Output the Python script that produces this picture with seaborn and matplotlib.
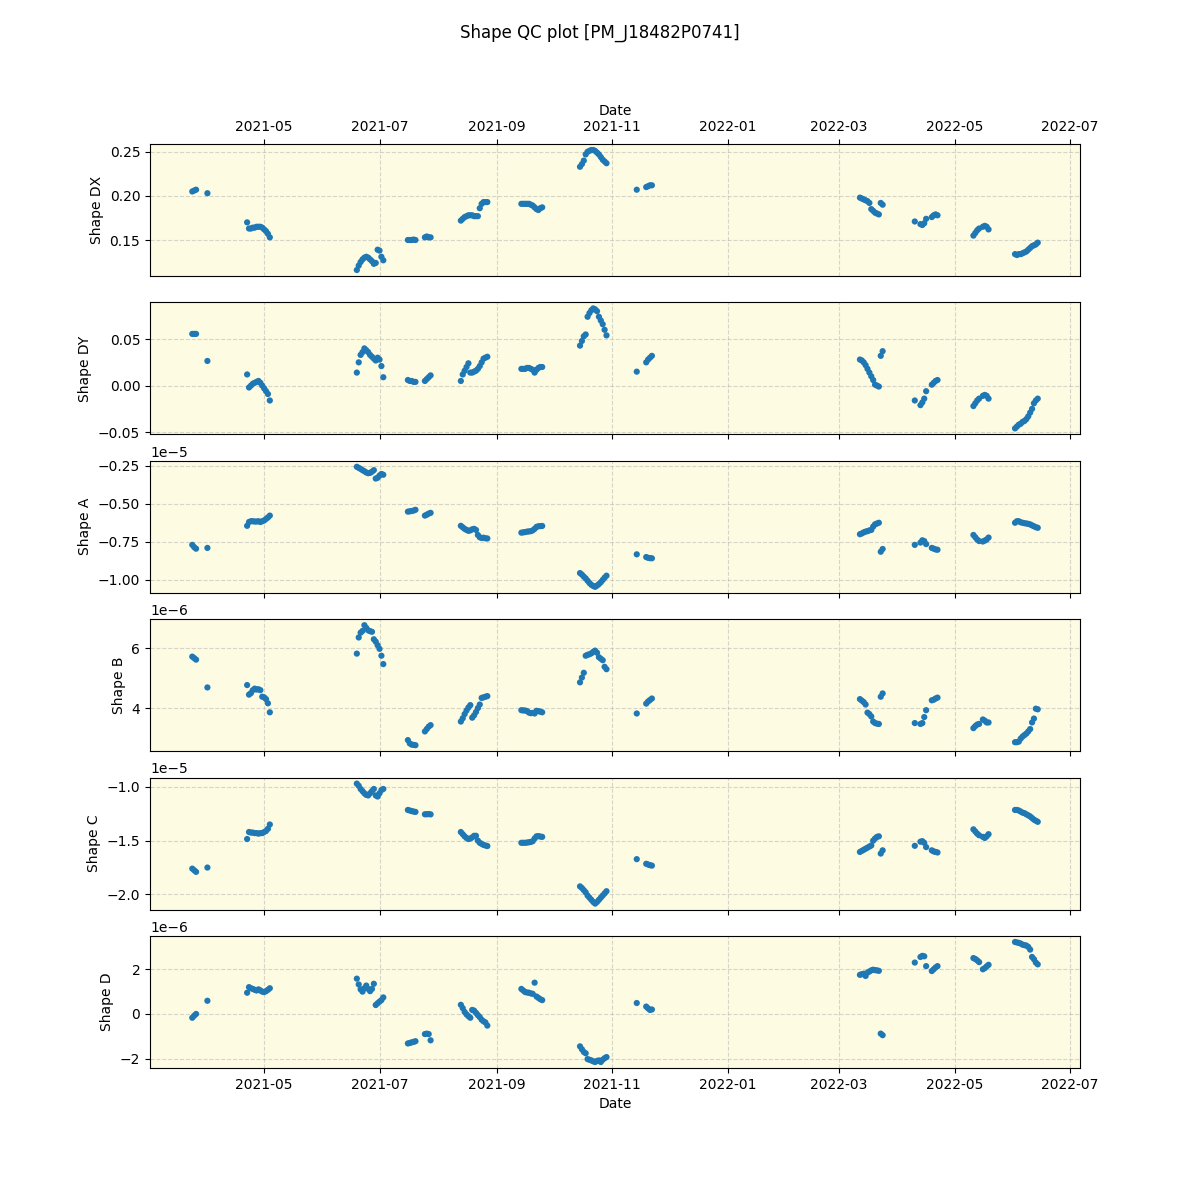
import pandas as pd
import seaborn as sns
import matplotlib.pyplot as plt

# observation dates (one row per measurement)
dates = [
    "2021-03-24", "2021-03-25", "2021-03-26", "2021-04-01",
    "2021-04-22", "2021-04-23", "2021-04-24", "2021-04-25", "2021-04-26", "2021-04-27", "2021-04-28",
    "2021-04-29", "2021-04-30", "2021-05-01", "2021-05-02", "2021-05-03", "2021-05-04",
    "2021-06-19", "2021-06-20", "2021-06-21", "2021-06-22", "2021-06-23", "2021-06-24", "2021-06-25",
    "2021-06-26", "2021-06-27", "2021-06-28", "2021-06-29", "2021-06-30", "2021-07-01", "2021-07-02",
    "2021-07-03",
    "2021-07-16", "2021-07-17", "2021-07-18", "2021-07-19", "2021-07-20",
    "2021-07-25", "2021-07-26", "2021-07-27", "2021-07-28",
    "2021-08-13", "2021-08-14", "2021-08-15", "2021-08-16", "2021-08-17", "2021-08-18", "2021-08-19",
    "2021-08-20", "2021-08-21", "2021-08-22", "2021-08-23", "2021-08-24", "2021-08-25", "2021-08-26",
    "2021-08-27",
    "2021-09-14", "2021-09-15", "2021-09-16", "2021-09-17", "2021-09-18", "2021-09-19", "2021-09-20",
    "2021-09-21", "2021-09-22", "2021-09-23", "2021-09-24", "2021-09-25",
    "2021-10-15", "2021-10-16", "2021-10-17", "2021-10-18", "2021-10-19", "2021-10-20", "2021-10-21",
    "2021-10-22", "2021-10-23", "2021-10-24", "2021-10-25", "2021-10-26", "2021-10-27", "2021-10-28",
    "2021-10-29",
    "2021-11-14", "2021-11-19", "2021-11-20", "2021-11-21", "2021-11-22",
    "2022-03-12", "2022-03-13", "2022-03-14", "2022-03-15", "2022-03-16", "2022-03-17", "2022-03-18",
    "2022-03-19", "2022-03-20", "2022-03-21", "2022-03-22", "2022-03-23", "2022-03-24",
    "2022-04-10", "2022-04-13", "2022-04-14", "2022-04-15", "2022-04-16", "2022-04-19", "2022-04-20",
    "2022-04-21", "2022-04-22",
    "2022-05-11", "2022-05-12", "2022-05-13", "2022-05-14", "2022-05-16", "2022-05-17", "2022-05-18",
    "2022-05-19",
    "2022-06-02", "2022-06-03", "2022-06-04", "2022-06-05", "2022-06-06", "2022-06-07", "2022-06-08",
    "2022-06-09", "2022-06-10", "2022-06-11", "2022-06-12", "2022-06-13", "2022-06-14",
]

shape_dx = [
    0.205, 0.206, 0.207, 0.203,
    0.170, 0.163, 0.163, 0.164, 0.164, 0.165, 0.165, 0.165, 0.164, 0.162, 0.160, 0.157, 0.153,
    0.116, 0.121, 0.125, 0.128, 0.130, 0.131, 0.130, 0.128, 0.126, 0.123, 0.124, 0.139, 0.138, 0.131, 0.127,
    0.150, 0.150, 0.150, 0.1505, 0.150,
    0.153, 0.154, 0.153, 0.153,
    0.172, 0.174, 0.176, 0.177, 0.178, 0.178, 0.178, 0.177, 0.177, 0.177, 0.186, 0.191, 0.193, 0.193, 0.193,
    0.191, 0.191, 0.191, 0.191, 0.191, 0.190, 0.189, 0.187, 0.185, 0.184, 0.186, 0.187,
    0.233, 0.236, 0.240, 0.247, 0.250, 0.251, 0.252, 0.252, 0.251, 0.249, 0.247, 0.244, 0.241, 0.239, 0.237,
    0.207, 0.210, 0.211, 0.212, 0.212,
    0.198, 0.197, 0.196, 0.195, 0.194, 0.192, 0.185, 0.183, 0.181, 0.180, 0.179, 0.192, 0.190,
    0.171, 0.168, 0.167, 0.169, 0.174, 0.176, 0.178, 0.179, 0.178,
    0.155, 0.158, 0.161, 0.163, 0.165, 0.166, 0.165, 0.162,
    0.134, 0.133, 0.134, 0.134, 0.135, 0.136, 0.137, 0.139, 0.141, 0.143, 0.144, 0.145, 0.147,
]

shape_dy = [
    0.0556, 0.0556, 0.0556, 0.0265,
    0.012, -0.002, 0.0, 0.002, 0.003, 0.004, 0.005, 0.003, 0.0, -0.003, -0.006, -0.009, -0.016,
    0.014, 0.025, 0.033, 0.036, 0.040, 0.038, 0.036, 0.033, 0.031, 0.029, 0.027, 0.030, 0.028, 0.021, 0.009,
    0.006, 0.005, 0.005, 0.004, 0.004,
    0.005, 0.007, 0.009, 0.011,
    0.005, 0.012, 0.016, 0.020, 0.024, 0.014, 0.014, 0.015, 0.016, 0.018, 0.021, 0.025, 0.029, 0.030, 0.031,
    0.018, 0.018, 0.018, 0.019, 0.019, 0.018, 0.017, 0.014, 0.017, 0.019, 0.020, 0.020,
    0.043, 0.048, 0.053, 0.055, 0.074, 0.078, 0.081, 0.083, 0.082, 0.080, 0.074, 0.070, 0.066, 0.060, 0.054,
    0.015, 0.025, 0.028, 0.030, 0.032,
    0.028, 0.027, 0.025, 0.022, 0.018, 0.014, 0.010, 0.006, 0.001, 0.000, -0.001, 0.032, 0.037,
    -0.016, -0.021, -0.018, -0.014, -0.006, 0.001, 0.003, 0.005, 0.006,
    -0.022, -0.019, -0.016, -0.014, -0.011, -0.010, -0.011, -0.014,
    -0.046, -0.044, -0.042, -0.041, -0.039, -0.038, -0.036, -0.033, -0.029, -0.025, -0.019, -0.016, -0.014,
]

# Shape A in units of 1e-5
shape_a = [
    -0.77, -0.785, -0.795, -0.79,
    -0.645, -0.62, -0.615, -0.615, -0.617, -0.617, -0.615, -0.62, -0.615, -0.61, -0.60, -0.59, -0.578,
    -0.258, -0.265, -0.272, -0.28, -0.287, -0.295, -0.30, -0.298, -0.29, -0.28, -0.335, -0.33, -0.315, -0.305, -0.31,
    -0.552, -0.55, -0.548, -0.545, -0.54,
    -0.578, -0.572, -0.565, -0.56,
    -0.645, -0.655, -0.665, -0.672, -0.678, -0.675, -0.668, -0.665, -0.672, -0.705, -0.72, -0.725, -0.723, -0.727, -0.728,
    -0.69, -0.688, -0.686, -0.683, -0.682, -0.68, -0.675, -0.665, -0.652, -0.648, -0.647, -0.646,
    -0.955, -0.965, -0.978, -0.99, -1.005, -1.02, -1.032, -1.04, -1.045, -1.037, -1.027, -1.015, -1.0, -0.985, -0.972,
    -0.832, -0.850, -0.855, -0.857, -0.858,
    -0.700, -0.695, -0.688, -0.683, -0.680, -0.675, -0.672, -0.650, -0.635, -0.630, -0.625, -0.815, -0.797,
    -0.770, -0.755, -0.740, -0.745, -0.765, -0.790, -0.795, -0.800, -0.802,
    -0.705, -0.72, -0.735, -0.745, -0.748, -0.742, -0.735, -0.722,
    -0.625, -0.615, -0.615, -0.622, -0.625, -0.628, -0.630, -0.632, -0.636, -0.642, -0.648, -0.654, -0.658,
]

# Shape B in units of 1e-6
shape_b = [
    5.72, 5.67, 5.62, 4.69,
    4.77, 4.45, 4.50, 4.60, 4.65, 4.62, 4.63, 4.60, 4.38, 4.36, 4.30, 4.16, 3.86,
    5.82, 6.36, 6.52, 6.58, 6.77, 6.68, 6.60, 6.57, 6.55, 6.30, 6.22, 6.10, 5.98, 5.75, 5.47,
    2.93, 2.82, 2.78, 2.77, 2.76,
    3.22, 3.30, 3.38, 3.43,
    3.55, 3.66, 3.80, 3.92, 4.02, 4.10, 3.68, 3.76, 3.87, 4.00, 4.12, 4.34, 4.36, 4.38, 4.40,
    3.93, 3.92, 3.92, 3.90, 3.85, 3.83, 3.84, 3.82, 3.91, 3.90, 3.88, 3.86,
    4.86, 5.02, 5.18, 5.75, 5.78, 5.80, 5.83, 5.88, 5.92, 5.85, 5.70, 5.65, 5.60, 5.38, 5.30,
    3.82, 4.15, 4.22, 4.27, 4.32,
    4.30, 4.25, 4.20, 4.12, 3.85, 3.80, 3.72, 3.55, 3.50, 3.48, 3.47, 4.38, 4.49,
    3.50, 3.47, 3.50, 3.70, 3.93, 4.26, 4.28, 4.32, 4.35,
    3.33, 3.40, 3.45, 3.47, 3.62, 3.58, 3.52, 3.52,
    2.86, 2.86, 2.88, 2.98, 3.05, 3.10, 3.15, 3.22, 3.30, 3.52, 3.65, 3.98, 3.96,
]

# Shape C in units of 1e-5
shape_c = [
    -1.76, -1.775, -1.79, -1.75,
    -1.485, -1.42, -1.425, -1.425, -1.43, -1.43, -1.435, -1.43, -1.43, -1.42, -1.41, -1.39, -1.35,
    -0.97, -0.99, -1.02, -1.04, -1.06, -1.075, -1.08, -1.06, -1.04, -1.02, -1.08, -1.09, -1.06, -1.03, -1.02,
    -1.215, -1.22, -1.225, -1.23, -1.233,
    -1.255, -1.255, -1.253, -1.256,
    -1.42, -1.44, -1.46, -1.475, -1.485, -1.48, -1.47, -1.455, -1.455, -1.5, -1.52, -1.53, -1.54, -1.545, -1.55,
    -1.52, -1.52, -1.52, -1.518, -1.515, -1.512, -1.505, -1.48, -1.46, -1.458, -1.462, -1.465,
    -1.925, -1.94, -1.96, -1.98, -2.01, -2.03, -2.05, -2.07, -2.085, -2.07, -2.05, -2.03, -2.01, -1.99, -1.97,
    -1.672, -1.715, -1.722, -1.728, -1.732,
    -1.605, -1.595, -1.585, -1.575, -1.565, -1.555, -1.545, -1.50, -1.48, -1.465, -1.46, -1.62, -1.59,
    -1.548, -1.51, -1.505, -1.52, -1.56, -1.59, -1.60, -1.605, -1.61,
    -1.395, -1.415, -1.435, -1.45, -1.465, -1.475, -1.46, -1.44,
    -1.215, -1.215, -1.22, -1.23, -1.24, -1.245, -1.255, -1.265, -1.275, -1.29, -1.305, -1.315, -1.325,
]

# Shape D in units of 1e-6
shape_d = [
    -0.17, -0.08, 0.0, 0.59,
    0.95, 1.20, 1.15, 1.12, 1.08, 1.05, 1.10, 1.05, 1.00, 0.98, 1.02, 1.08, 1.15,
    1.58, 1.32, 1.10, 1.00, 1.15, 1.27, 1.12, 1.02, 1.12, 1.35, 0.40, 0.48, 0.55, 0.62, 0.74,
    -1.32, -1.30, -1.27, -1.25, -1.22,
    -0.90, -0.88, -0.90, -1.18,
    0.41, 0.26, 0.09, -0.02, -0.10, -0.17, 0.18, 0.15, 0.05, -0.05, -0.14, -0.26, -0.33, -0.38, -0.52,
    1.12, 1.05, 0.98, 0.96, 0.95, 0.92, 0.90, 1.40, 0.78, 0.72, 0.66, 0.62,
    -1.45, -1.58, -1.70, -1.76, -2.02, -2.05, -2.08, -2.12, -2.15, -2.10, -2.08, -2.15, -2.05, -1.98, -1.93,
    0.49, 0.33, 0.25, 0.18, 0.20,
    1.75, 1.78, 1.80, 1.70, 1.85, 1.90, 1.95, 1.98, 1.96, 1.95, 1.93, -0.88, -0.95,
    2.30, 2.55, 2.60, 2.58, 2.14, 1.92, 2.00, 2.08, 2.14,
    2.50, 2.46, 2.40, 2.32, 2.00, 2.05, 2.13, 2.20,
    3.22, 3.20, 3.18, 3.15, 3.10, 3.08, 3.06, 3.00, 2.88, 2.55, 2.45, 2.30, 2.22,
]


def plot_shape_qc():
    df = pd.DataFrame({
        'Date': pd.to_datetime(dates),
        'Shape DX': shape_dx,
        'Shape DY': shape_dy,
        'Shape A': [v * 1e-5 for v in shape_a],
        'Shape B': [v * 1e-6 for v in shape_b],
        'Shape C': [v * 1e-5 for v in shape_c],
        'Shape D': [v * 1e-6 for v in shape_d],
    })

    cols = ['Shape DX', 'Shape DY', 'Shape A', 'Shape B', 'Shape C', 'Shape D']
    fig, axes = plt.subplots(len(cols), 1, figsize=(12, 12), sharex=True)

    for ax, col in zip(axes, cols):
        ax.set_facecolor('#fdfbe2')
        sns.scatterplot(data=df, x='Date', y=col, ax=ax, s=20,
                        color='tab:blue', edgecolor='none')
        ax.grid(True, linestyle='--', alpha=0.5)
        ax.set_axisbelow(True)
        ax.set_xlabel('')
        ax.set_ylabel(col)

    # date axis on top of the first panel and bottom of the last one
    axes[0].xaxis.tick_top()
    axes[0].xaxis.set_label_position('top')
    axes[0].tick_params(axis='x', labeltop=True)
    axes[0].set_xlabel('Date', visible=True)
    axes[-1].set_xlabel('Date', visible=True)

    fig.suptitle('Shape QC plot [PM_J18482P0741]')
    plt.savefig('out.png', dpi=100)
    plt.close()


if __name__ == "__main__":
    plot_shape_qc()
